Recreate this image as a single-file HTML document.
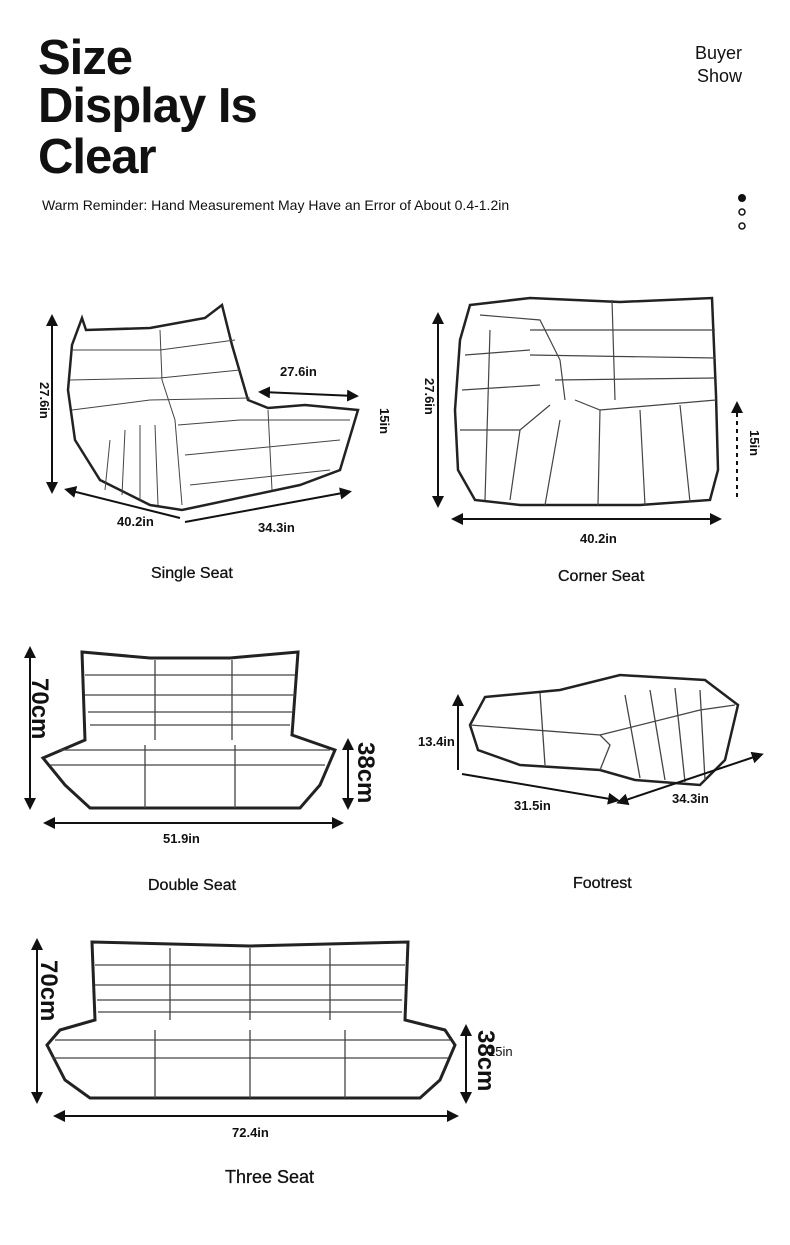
<!DOCTYPE html>
<html><head><meta charset="utf-8"><style>
html,body{margin:0;padding:0;background:#fff;}
body{width:790px;height:1245px;position:relative;overflow:hidden;font-family:"Liberation Sans",sans-serif;color:#111;}
.t{position:absolute;white-space:nowrap;}
svg{position:absolute;left:0;top:0;}
</style></head><body>
<div class="t" style="left:38px;top:34px;font-size:49px;font-weight:bold;line-height:48px;letter-spacing:-1px">Size<br>Display Is</div>
<div class="t" style="left:38px;top:131px;font-size:49px;font-weight:bold;line-height:52px;letter-spacing:-1px">Clear</div>
<div class="t" style="left:695px;top:42px;font-size:18px;line-height:23px;text-align:right">Buyer<br>Show</div>
<div class="t" style="left:42px;top:197px;font-size:14px">Warm Reminder: Hand Measurement May Have an Error of About 0.4-1.2in</div>
<div class="t" style="left:151px;top:565px;font-size:16px;-webkit-text-stroke:0.3px #111">Single Seat</div>
<div class="t" style="left:558px;top:568px;font-size:16px;-webkit-text-stroke:0.3px #111">Corner Seat</div>
<div class="t" style="left:148px;top:877px;font-size:16px;-webkit-text-stroke:0.3px #111">Double Seat</div>
<div class="t" style="left:573px;top:875px;font-size:16px;-webkit-text-stroke:0.3px #111">Footrest</div>
<div class="t" style="left:225px;top:1167px;font-size:18px;-webkit-text-stroke:0.3px #111">Three Seat</div>

<svg width="790" height="1245" viewBox="0 0 790 1245">
<defs><marker id="a" markerWidth="6" markerHeight="6" refX="4" refY="3" orient="auto-start-reverse" markerUnits="strokeWidth"><path d="M0,0 L6,3 L0,6 Z" fill="#111"/></marker></defs>
<g fill="none" stroke="#111">
<circle cx="742" cy="198" r="3.5" fill="#111"/>
<circle cx="742" cy="212" r="3" stroke-width="1.5"/>
<circle cx="742" cy="226" r="3" stroke-width="1.5"/>
</g>
<g font-family="Liberation Sans,sans-serif" font-size="13" fill="#111" font-weight="bold">
<!-- single seat -->
<g fill="none" stroke="#222" stroke-width="2.5">
<path d="M82,318 L86,330 L150,328 L205,318 L222,305 L232,345 L248,400 L268,408 L305,405 L358,410 L352,430 L340,470 L300,485 L182,510 L150,505 L100,480 L75,440 L68,390 L72,345 Z"/>
</g>
<g fill="none" stroke="#444" stroke-width="1">
<path d="M72,350 L160,350 L235,340 M70,380 L160,378 L240,370 M72,410 L150,400 L250,398 M178,425 L240,420 L350,420 M185,455 L340,440 M190,485 L330,470 M160,330 L162,380 L175,420 L182,505 M268,410 L272,490"/>
<path d="M110,440 L105,490 M125,430 L122,495 M140,425 L140,500 M155,425 L158,505"/>
</g>
<g stroke="#111" stroke-width="2" fill="none">
<line x1="52" y1="318" x2="52" y2="490" marker-start="url(#a)" marker-end="url(#a)"/>
<line x1="262" y1="392" x2="355" y2="396" marker-start="url(#a)" marker-end="url(#a)"/>
<line x1="68" y1="490" x2="180" y2="518" marker-start="url(#a)"/>
<line x1="185" y1="522" x2="348" y2="492" marker-end="url(#a)"/>
</g>
<text x="280" y="376">27.6in</text>
<text transform="translate(40,382) rotate(90)">27.6in</text>
<text transform="translate(380,408) rotate(90)">15in</text>
<text x="117" y="526">40.2in</text>
<text x="258" y="532">34.3in</text>

<!-- corner seat -->
<g fill="none" stroke="#222" stroke-width="2.5">
<path d="M470,305 L530,298 L620,302 L712,298 L716,395 L718,470 L710,500 L640,505 L520,505 L475,500 L458,470 L455,410 L460,340 Z"/>
</g>
<g fill="none" stroke="#444" stroke-width="1.2">
<path d="M480,315 L540,320 L560,360 L565,400 M465,355 L530,350 M462,390 L540,385 M460,430 L520,430 L550,405 M575,400 L600,410 L716,400 M530,330 L715,330 M530,355 L715,358 M555,380 L715,378 M612,300 L615,400 M600,410 L598,505 M640,410 L645,505 M680,405 L690,502 M560,420 L545,505 M520,430 L510,500 M490,330 L485,500"/>
</g>
<g stroke="#111" stroke-width="2" fill="none">
<line x1="438" y1="316" x2="438" y2="504" marker-start="url(#a)" marker-end="url(#a)"/>
<line x1="455" y1="519" x2="718" y2="519" marker-start="url(#a)" marker-end="url(#a)"/>
<line x1="737" y1="405" x2="737" y2="500" stroke-dasharray="4,4" marker-start="url(#a)"/>
</g>
<text transform="translate(425,378) rotate(90)">27.6in</text>
<text transform="translate(750,430) rotate(90)">15in</text>
<text x="580" y="543">40.2in</text>

<!-- double seat -->
<g fill="none" stroke="#222" stroke-width="3">
<path d="M82,652 L150,658 L230,658 L298,652 L292,735 L335,750 L320,785 L300,808 L90,808 L65,785 L43,758 L85,740 Z"/>
</g>
<g fill="none" stroke="#444" stroke-width="1.3">
<path d="M85,675 L295,675 M85,695 L295,695 M88,712 L292,712 M90,725 L290,725 M60,750 L330,750 M50,765 L325,765 M155,660 L155,740 M232,660 L232,740 M145,745 L145,808 M235,745 L235,808"/>
</g>
<g stroke="#111" stroke-width="2" fill="none">
<line x1="30" y1="650" x2="30" y2="806" marker-start="url(#a)" marker-end="url(#a)"/>
<line x1="348" y1="742" x2="348" y2="806" marker-start="url(#a)" marker-end="url(#a)"/>
<line x1="47" y1="823" x2="340" y2="823" marker-start="url(#a)" marker-end="url(#a)"/>
</g>
<text transform="translate(32,678) rotate(90)" font-size="24">70cm</text>
<text transform="translate(358,742) rotate(90)" font-size="24">38cm</text>
<text x="163" y="843">51.9in</text>

<!-- footrest -->
<g fill="none" stroke="#222" stroke-width="2.5">
<path d="M485,697 L560,690 L620,675 L705,680 L738,705 L725,760 L700,785 L635,780 L600,770 L520,765 L478,750 L470,725 Z"/>
</g>
<g fill="none" stroke="#444" stroke-width="1.3">
<path d="M470,725 L600,735 L610,745 L600,770 M540,693 L545,765 M600,735 L700,710 L735,705 M625,695 L640,778 M650,690 L665,780 M675,688 L685,782 M700,690 L705,780"/>
</g>
<g stroke="#111" stroke-width="2" fill="none">
<line x1="458" y1="698" x2="458" y2="770" marker-start="url(#a)"/>
<line x1="462" y1="774" x2="616" y2="800" marker-end="url(#a)"/>
<line x1="620" y1="802" x2="760" y2="755" marker-start="url(#a)" marker-end="url(#a)"/>
</g>
<text x="418" y="746">13.4in</text>
<text x="514" y="810">31.5in</text>
<text x="672" y="803">34.3in</text>

<!-- three seat -->
<g fill="none" stroke="#222" stroke-width="3">
<path d="M92,942 L250,946 L408,942 L405,1020 L445,1030 L455,1045 L440,1080 L420,1098 L90,1098 L65,1080 L47,1045 L60,1030 L95,1020 Z"/>
</g>
<g fill="none" stroke="#444" stroke-width="1.3">
<path d="M95,965 L405,965 M95,985 L405,985 M97,1000 L402,1000 M98,1012 L402,1012 M55,1040 L450,1040 M52,1058 L448,1058 M170,948 L170,1020 M250,948 L250,1020 M330,948 L330,1020 M155,1030 L155,1098 M250,1030 L250,1098 M345,1030 L345,1098"/>
</g>
<g stroke="#111" stroke-width="2" fill="none">
<line x1="37" y1="942" x2="37" y2="1100" marker-start="url(#a)" marker-end="url(#a)"/>
<line x1="466" y1="1028" x2="466" y2="1100" marker-start="url(#a)" marker-end="url(#a)"/>
<line x1="57" y1="1116" x2="455" y2="1116" marker-start="url(#a)" marker-end="url(#a)"/>
</g>
<text transform="translate(41,960) rotate(90)" font-size="24">70cm</text>
<text transform="translate(478,1030) rotate(90)" font-size="24">38cm</text>
<text x="488" y="1056" font-weight="normal">15in</text>
<text x="232" y="1137">72.4in</text>
</g>
</svg>
</body></html>
